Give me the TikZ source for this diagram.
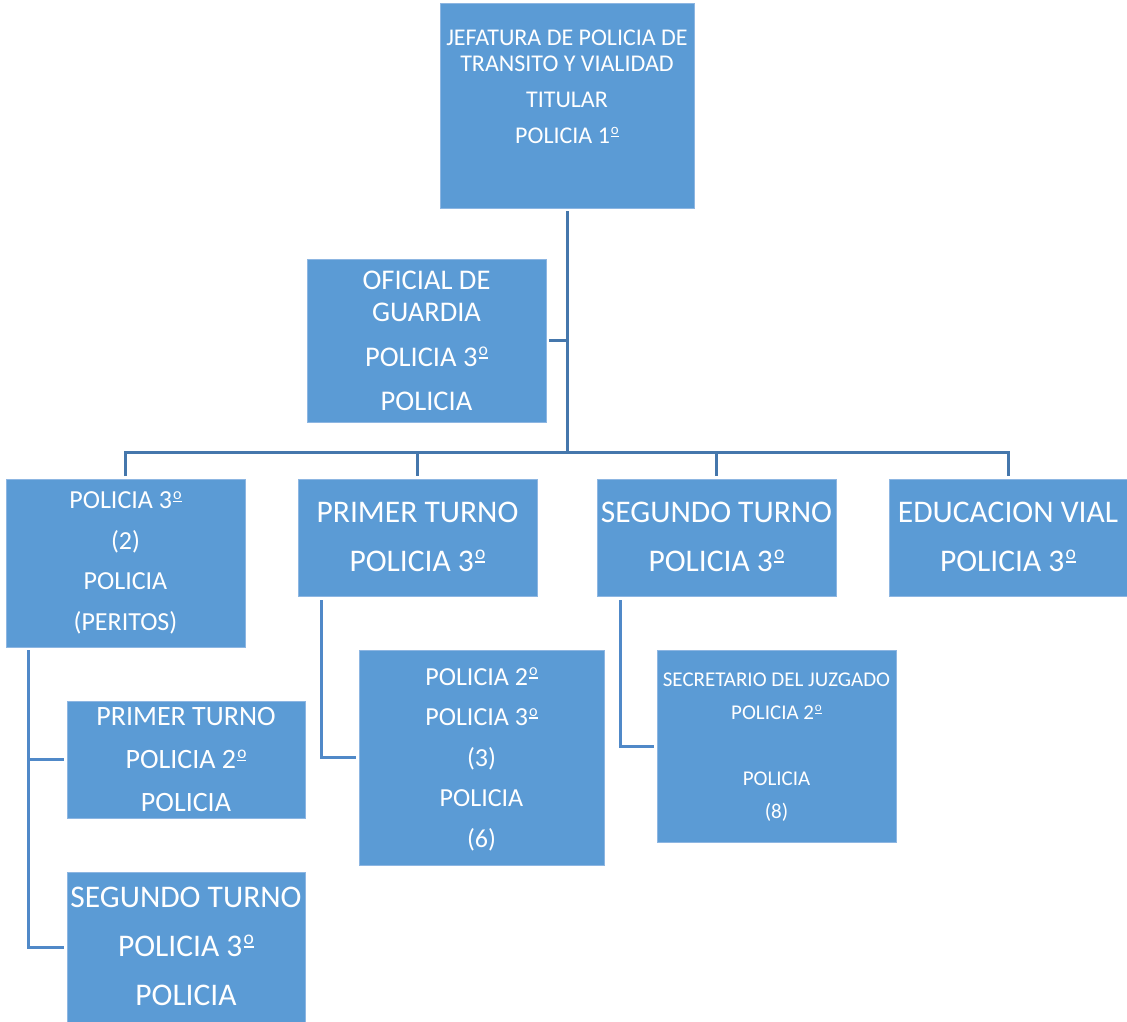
\documentclass[tikz,border=0pt]{standalone}
\usepackage{fontspec}
\usepackage{graphicx}
\setmainfont{Carlito}
\definecolor{boxblue}{HTML}{5B9BD5}
\definecolor{boxedge}{HTML}{8DB6E2}
\definecolor{mainline}{HTML}{4577AC}
\definecolor{subline}{HTML}{5089C8}
% masculine ordinal: small raised o over a bar
\newcommand\ordm{\kern0.04em\raisebox{0.25em}{\vbox{\hbox{\scalebox{0.62}{o}}\kern0.05em\hrule height 0.06em}}}
\begin{document}
\begin{tikzpicture}[x=1pt,y=-1pt,
  box/.style={fill=boxblue,draw=boxedge,line width=0.8pt,inner sep=0pt,outer sep=0pt,anchor=north west},
  txt/.style={text=white,align=center,inner sep=0pt,anchor=north},
  link/.style={draw=mainline,line width=3pt},
  sublink/.style={draw=subline,line width=3pt}]
\useasboundingbox (0,0) rectangle (1127,1021);

% boxes
\node[box,minimum width=254pt,minimum height=205pt] (top) at (440,3) {};
\node[box,minimum width=239pt,minimum height=163pt] (ofi) at (307,259) {};
\node[box,minimum width=239pt,minimum height=168pt] (peritos) at (6,479) {};
\node[box,minimum width=239pt,minimum height=117pt] (primer) at (298,479) {};
\node[box,minimum width=239pt,minimum height=117pt] (segundo) at (597,479) {};
\node[box,minimum width=238pt,minimum height=117pt] (educ) at (889,479) {};
\node[box,minimum width=238pt,minimum height=117pt] (pprimer) at (67,701) {};
\node[box,minimum width=238pt,minimum height=150pt] (psegundo) at (67,872) {};
\node[box,minimum width=245pt,minimum height=215pt] (turno1) at (359,650) {};
\node[box,minimum width=239pt,minimum height=192pt] (juzgado) at (657,650) {};

% texts
\node[txt,font=\fontsize{24}{36}\selectfont] (top-t) at (567,29.5)
  {JEFATURA DE POLICIA DE\\[-10pt]TRANSITO Y VIALIDAD\\TITULAR\\POLICIA 1\ordm};
\node[txt,font=\fontsize{28.5}{44.5}\selectfont] (ofi-t) at (426.5,271)
  {OFICIAL DE\\[-12.5pt]GUARDIA\\POLICIA 3\ordm\\POLICIA};
\node[txt,font=\fontsize{26}{40.5}\selectfont] (peritos-t) at (125.5,491.5)
  {POLICIA 3\ordm\\(2)\\POLICIA\\(PERITOS)};
\node[txt,font=\fontsize{31.5}{49}\selectfont] (primer-t) at (417.5,501.5)
  {PRIMER TURNO\\POLICIA 3\ordm};
\node[txt,font=\fontsize{31.5}{49}\selectfont] (segundo-t) at (716.5,501.5)
  {SEGUNDO TURNO\\POLICIA 3\ordm};
\node[txt,font=\fontsize{31.5}{49}\selectfont] (educ-t) at (1008,501.5)
  {EDUCACION VIAL\\POLICIA 3\ordm};
\node[txt,font=\fontsize{28}{43}\selectfont] (pprimer-t) at (186,707)
  {PRIMER TURNO\\POLICIA 2\ordm\\POLICIA};
\node[txt,font=\fontsize{31.5}{49}\selectfont] (psegundo-t) at (186,886.5)
  {SEGUNDO TURNO\\POLICIA 3\ordm\\POLICIA};
\node[txt,font=\fontsize{26}{40.5}\selectfont] (turno1-t) at (481.5,667.5)
  {POLICIA 2\ordm\\POLICIA 3\ordm\\(3)\\POLICIA\\(6)};
\node[txt,font=\fontsize{21}{32.8}\selectfont] (juzgado-t) at (776.5,673)
  {SECRETARIO DEL JUZGADO\\POLICIA 2\ordm\\[32.8pt]POLICIA\\(8)};

% main tree
\coordinate (bus) at (567,452);
\draw[link] ([yshift=-3pt]top.south) -- (bus);
\draw[link] ([xshift=3pt]ofi.east) -- (ofi.east -| bus);
\draw[link] ([yshift=3pt]peritos.north) |- (bus) -| ([yshift=3pt]educ.north);
\draw[link] (primer.north |- bus) -- ([yshift=3pt]primer.north);
\draw[link] (segundo.north |- bus) -- ([yshift=3pt]segundo.north);

% branches below the first level
\coordinate (spineA) at (28,650);
\coordinate (spineB) at (321,600);
\coordinate (spineC) at (620,600);
\draw[sublink] (spineA) |- ([xshift=-3pt]psegundo.west);
\draw[sublink] (spineA |- pprimer.west) -- ([xshift=-3pt]pprimer.west);
\draw[sublink] (spineB) |- ([xshift=-3pt]turno1.west);
\draw[sublink] (spineC) |- ([xshift=-3pt]juzgado.west);
\end{tikzpicture}
\end{document}
